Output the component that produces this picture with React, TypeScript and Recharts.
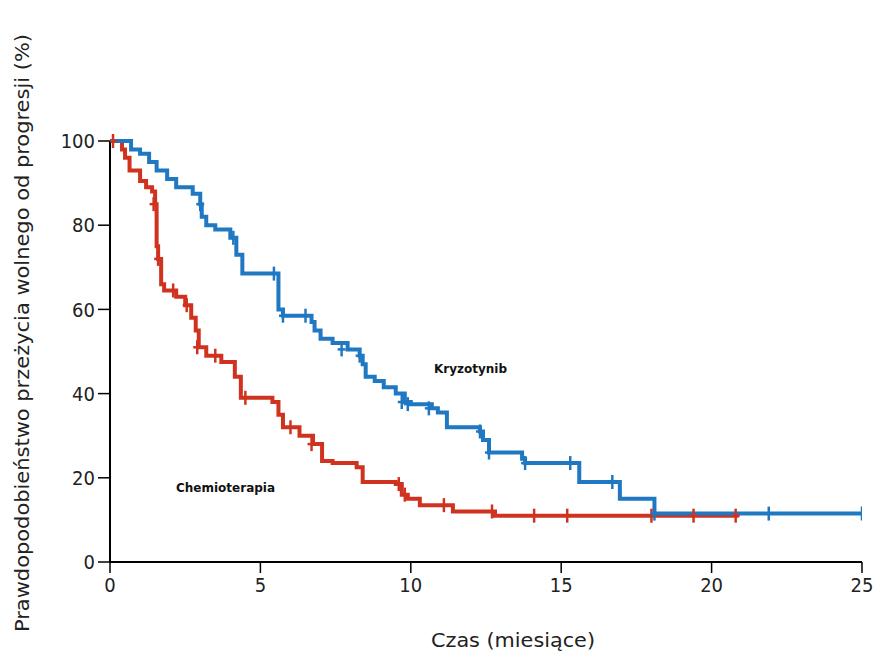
import {
  ComposedChart,
  Line,
  Scatter,
  XAxis,
  YAxis,
  Label
} from 'recharts'

// Kaplan-Meier steps: time (months) and PFS probability (%)
const kryzoTimes = [0, 0.7, 1.0, 1.3, 1.55, 1.9, 2.2, 2.75, 3.0, 3.05, 3.2, 3.5, 4.0, 4.2, 4.4, 5.6, 5.75, 6.7, 6.8, 7.0, 7.4, 7.9, 8.3, 8.4, 8.5, 8.8, 9.1, 9.5, 9.8, 10.0, 10.7, 10.9, 11.2, 12.3, 12.4, 12.6, 13.7, 13.8, 15.6, 16.95, 18.1, 25]
const kryzoSurv = [100, 98, 97, 95, 93, 91, 89, 87.5, 85, 82, 80, 79, 77, 73, 68.5, 60, 58.5, 57, 55, 53, 52, 50.5, 49, 47, 44, 43, 41.5, 40, 38, 37.5, 36.5, 35.5, 32, 31, 29, 26, 24.5, 23.5, 19, 15, 11.5, 11.5]

const chemoTimes = [0, 0.4, 0.5, 0.65, 1.0, 1.2, 1.4, 1.5, 1.55, 1.6, 1.7, 1.8, 2.2, 2.5, 2.7, 2.85, 2.95, 3.2, 3.7, 4.15, 4.35, 5.4, 5.6, 5.75, 6.3, 6.75, 7.05, 7.4, 8.2, 8.4, 9.5, 9.7, 9.9, 10.3, 11.4, 12.8, 20.9]
const chemoSurv = [100, 98, 96, 93, 90.5, 89, 88, 85, 75, 72, 66, 64.5, 63, 61, 58, 55, 51, 49, 47.5, 44, 39, 38, 35, 32, 30, 28, 24, 23.5, 22.5, 19, 18.5, 16, 15, 13.5, 12, 11, 11]

// censored observations
const kryzoCensorT = [3.0, 4.1, 5.45, 5.75, 6.5, 7.7, 8.3, 9.7, 9.9, 10.6, 12.3, 12.6, 13.8, 15.3, 16.7, 18.1, 21.9, 25]
const kryzoCensorS = [85, 77, 68.5, 58.5, 58.5, 50.5, 49, 38, 37.5, 36.5, 31, 26, 23.5, 23.5, 19, 11.5, 11.5, 11.5]
const chemoCensorT = [0.1, 1.45, 1.6, 2.1, 2.55, 2.9, 3.5, 4.5, 6.0, 6.7, 9.6, 9.8, 11.1, 12.7, 14.1, 15.2, 18.0, 19.4, 20.8]
const chemoCensorS = [100, 85, 72, 64.5, 61, 51, 49, 39, 32, 28, 18.5, 16, 13.5, 12, 11, 11, 11, 11, 11]

const xTicks = [0, 5, 10, 15, 20, 25]
const yTicks = [0, 20, 40, 60, 80, 100]

const BLUE = '#1f78c1'
const RED = '#cf3320'
const FONT = '"DejaVu Sans Condensed", "Open Sans", sans-serif'

const zip = (t: number[], s: number[]) => t.map((v, i) => ({ t: v, s: s[i] }))

const kryzoData = zip(kryzoTimes, kryzoSurv)
const chemoData = zip(chemoTimes, chemoSurv)
const kryzoCensor = zip(kryzoCensorT, kryzoCensorS)
const chemoCensor = zip(chemoCensorT, chemoCensorS)

const tick = (color: string) => (props: any) => {
  const { cx, cy } = props
  if (cx == null || cy == null) return <g />
  return (
    <g>
      <line x1={cx} x2={cx} y1={cy - 7} y2={cy + 7} stroke={color} strokeWidth={2.5} />
      <line x1={cx - 4} x2={cx + 4} y1={cy} y2={cy} stroke={color} strokeWidth={2.5} />
    </g>
  )
}

const inlineLabel = {
  position: 'absolute' as const,
  fontFamily: '"DejaVu Sans", sans-serif',
  fontWeight: 'bold' as const,
  fontSize: 12,
  color: '#111',
  lineHeight: '14px'
}

export default function App() {
  return (
    <div style={{ position: 'absolute', left: 0, top: 0, width: 879, height: 658, background: '#fff' }}>
      <ComposedChart
        width={879}
        height={658}
        margin={{ top: 141, right: 17, bottom: 0, left: 0 }}
      >
        <XAxis
          dataKey="t"
          type="number"
          domain={[0, 25]}
          ticks={xTicks}
          allowDataOverflow
          axisLine={{ stroke: '#000', strokeWidth: 2 }}
          tickLine={{ stroke: '#000', strokeWidth: 1.5 }}
          tickSize={11}
          tick={{ fill: '#222', fontSize: 20, fontFamily: FONT }}
          tickMargin={5}
          height={96}
        >
          <Label
            content={() => (
              <text
                x={513}
                y={647}
                textAnchor="middle"
                fill="#222"
                fontSize={19.5}
                fontFamily={FONT}
                textLength={164}
                lengthAdjust="spacingAndGlyphs"
              >
                Czas (miesiące)
              </text>
            )}
          />
        </XAxis>
        <YAxis
          dataKey="s"
          type="number"
          domain={[0, 100]}
          ticks={yTicks}
          width={110}
          axisLine={{ stroke: '#000', strokeWidth: 2 }}
          tickLine={{ stroke: '#000', strokeWidth: 1.5 }}
          tickSize={12}
          tick={{ fill: '#222', fontSize: 20, fontFamily: FONT }}
          tickMargin={3}
        >
          <Label
            content={() => (
              <text
                x={29}
                y={333}
                transform="rotate(-90 29 333)"
                textAnchor="middle"
                fill="#222"
                fontSize={19.5}
                fontFamily={FONT}
                textLength={598}
                lengthAdjust="spacingAndGlyphs"
              >
                Prawdopodobieństwo przeżycia wolnego od progresji (%)
              </text>
            )}
          />
        </YAxis>
        <Line
          data={chemoData}
          dataKey="s"
          type="stepAfter"
          stroke={RED}
          strokeWidth={4}
          dot={false}
          isAnimationActive={false}
        />
        <Line
          data={kryzoData}
          dataKey="s"
          type="stepAfter"
          stroke={BLUE}
          strokeWidth={4}
          dot={false}
          isAnimationActive={false}
        />
        <Scatter data={chemoCensor} dataKey="s" shape={tick(RED)} isAnimationActive={false} />
        <Scatter data={kryzoCensor} dataKey="s" shape={tick(BLUE)} isAnimationActive={false} />
      </ComposedChart>
      <div style={{ ...inlineLabel, left: 434, top: 362 }}>Kryzotynib</div>
      <div style={{ ...inlineLabel, left: 176, top: 481 }}>Chemioterapia</div>
    </div>
  )
}
